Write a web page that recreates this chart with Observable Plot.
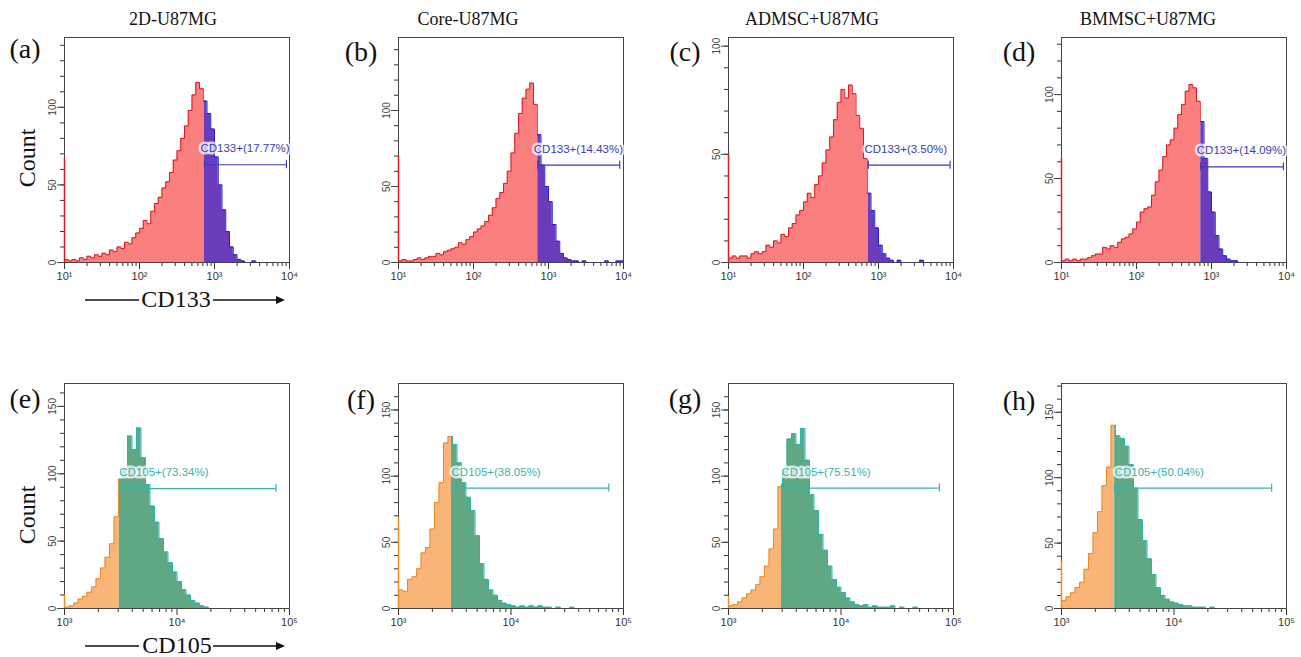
<!DOCTYPE html>
<html><head><meta charset="utf-8">
<script src="https://cdn.jsdelivr.net/npm/d3@7"></script>
<script src="https://cdn.jsdelivr.net/npm/@observablehq/plot@0.6"></script>
<style>
body{margin:0;background:#fff;}
#fig{position:relative;width:1301px;height:657px;overflow:hidden;font-family:"Liberation Serif","Times New Roman",serif;color:#111;}
.t{position:absolute;transform:translate(-50%,-50%);white-space:nowrap;line-height:1;}
.panel{position:absolute;}
#deco{position:absolute;left:0;top:0;}
</style></head>
<body><div id="fig"><svg id="deco" width="1301" height="657"></svg></div>
<script>
// ---------- data ----------
const columnTitles = ["2D-U87MG", "Core-U87MG", "ADMSC+U87MG", "BMMSC+U87MG"];
const topLetters = ["(a)", "(b)", "(c)", "(d)"];
const bottomLetters = ["(e)", "(f)", "(g)", "(h)"];

// bin starts, log10 of fluorescence
const cd133Bins = [1.00,1.05,1.10,1.15,1.20,1.25,1.30,1.35,1.40,1.45,1.50,1.55,1.60,1.65,1.70,1.75,1.80,1.85,1.90,1.95,2.00,2.05,2.10,2.15,2.20,2.25,2.30,2.35,2.40,2.45,2.50,2.55,2.60,2.65,2.70,2.75,2.80,2.85,2.90,2.95,3.00,3.05,3.10,3.15,3.20,3.25,3.30,3.35,3.40,3.45,3.50,3.55,3.60,3.65,3.70,3.75,3.80,3.85,3.90,3.95];
const cd105Bins = [3.00,3.04,3.08,3.12,3.16,3.20,3.24,3.28,3.32,3.36,3.40,3.44,3.48,3.52,3.56,3.60,3.64,3.68,3.72,3.76,3.80,3.84,3.88,3.92,3.96,4.00,4.04,4.08,4.12,4.16,4.20,4.24,4.28,4.32,4.36,4.40,4.44,4.48,4.52,4.56,4.60,4.64,4.68,4.72,4.76,4.80,4.84,4.88,4.92,4.96];

const cd133Counts_a = [2,1,2,1,3,2,4,3,5,4, 6,5,8,7,10,9,13,12,16,19, 22,27,25,33,38,42,48,52,58,66, 72,80,88,98,108,116,112,104,96,86, 68,50,34,20,10,5,2,1,0,0, 1,0,0,0,0,0,0,0,0,0];
const cd133Counts_b = [1,2,1,1,2,3,2,3,4,4, 6,5,7,8,9,10,13,12,15,17, 20,22,24,27,31,36,42,46,52,60, 72,85,98,108,114,118,104,84,64,50, 40,25,14,6,3,2,1,1,0,1, 0,0,0,0,0,1,0,0,1,1];
const cd133Counts_c = [2,3,2,3,3,2,4,5,4,5, 8,7,10,9,13,12,16,18,22,24, 28,32,30,36,40,46,52,58,66,74, 80,76,82,78,68,62,48,32,24,16, 8,4,2,1,0,1,0,0,0,0, 0,1,0,0,0,0,0,0,0,0];
const cd133Counts_d = [1,2,1,2,1,2,2,3,4,5, 5,9,8,10,9,12,14,15,17,20, 24,30,32,33,40,48,55,63,70,73, 80,88,94,102,106,104,96,84,62,42, 30,16,8,4,2,1,1,0,0,0, 0,0,0,0,0,0,0,0,0,0];
const cd105Counts_e = [1,2,4,7,9,12,16,22,30,38, 48,68,96,104,128,118,134,112,92,76, 64,52,42,34,27,20,14,10,6,4, 2,1,0,0,0,0,0,0,0,0, 0,0,0,0,0,0,0,0,0,0];
const cd105Counts_f = [14,13,22,24,30,42,46,60,80,95, 125,130,124,110,95,84,74,55,34,22, 14,10,6,4,3,2,1,2,1,2, 1,2,1,1,0,1,0,0,1,0, 0,0,0,0,0,0,0,0,0,0];
const cd105Counts_g = [2,3,5,8,11,14,18,24,32,45, 60,92,104,128,132,124,136,112,86,74, 56,44,32,22,16,12,8,5,3,2, 3,1,2,1,1,1,2,0,1,0, 0,1,0,0,0,0,0,0,0,0];
const cd105Counts_h = [6,9,12,16,20,30,42,58,74,94, 108,140,132,130,124,110,92,68,52,38, 26,16,10,7,5,4,3,2,2,1, 1,1,0,1,0,0,0,0,0,0, 0,0,0,0,0,0,0,0,0,0];

// events piled at the lowest channel
const cd133Edge = [67, 70, 50, 62];
const cd105Edge = [10, 69, 9, 36];

// gates
const cd133GateStart = [735, 720, 733, 720];
const cd133GateEnd = [9100, 8900, 9000, 9100];
const cd133GateLevel = [63, 64, 45, 57];
const cd133Labels = ["CD133+(17.77%)", "CD133+(14.43%)", "CD133+(3.50%)", "CD133+(14.09%)"];
const cd105GateStart = [3070, 2960, 2960, 2970];
const cd105GateEnd = [76000, 74000, 75000, 73800];
const cd105GateLevel = [89, 91, 91, 92];
const cd105Labels = ["CD105+(73.34%)", "CD105+(38.05%)", "CD105+(75.51%)", "CD105+(50.04%)"];

// axes
const cd133Domain = [10, 10000];
const cd105Domain = [1000, 100000];
const cd133MajorTicks = [10, 100, 1000, 10000];
const cd105MajorTicks = [1000, 10000, 100000];
const cd133YMax = [145, 148, 104, 134];
const cd105YMax = [167, 170, 170, 172];
const cd133YTicks = [0, 50, 100];
const cd105YTicks = [0, 50, 100, 150];

// ---------- layout ----------
const fig = document.getElementById("fig");
const colLeft = [64, 398, 728, 1061];
const rowTop = [37, 383];
const FW = 225, FH = 225, ML = 40, MR = 12, MT = 10, MB = 32;
const sup = {1: "\u00b9", 2: "\u00b2", 3: "\u00b3", 4: "\u2074", 5: "\u2075"};
const supFormat = d => "10" + sup[Math.round(Math.log10(d))];

const topColors = {negFill: "#fa8080", negStroke: "#e8161c", posFill: "#6a3cbc", posStroke: "#2020e0", gate: "#3a3ab6"};
const botColors = {negFill: "#f9b478", negStroke: "#f08a20", posFill: "#60a884", posStroke: "#22b7ae", gate: "#38b4ac"};

function minorTicks(domain) {
  const out = [];
  for (let p = Math.log10(domain[0]); p < Math.log10(domain[1]); p++)
    for (let k = 2; k <= 9; k++) out.push(k * 10 ** p);
  return out;
}

function panel(o) {
  const xs = o.bins.map(b => 10 ** b);
  const neg = [], pos = [];
  xs.forEach((x1, i) => {
    const x2 = i + 1 < xs.length ? xs[i + 1] : o.domain[1];
    const y = o.counts[i];
    if (x2 <= o.gate) neg.push({x: x1, y}, {x: x2, y});
    else if (x1 >= o.gate) pos.push({x: x1, y}, {x: x2, y});
    else { neg.push({x: x1, y}, {x: o.gate, y}); pos.push({x: o.gate, y}, {x: x2, y}); }
  });
  const c = o.colors;
  const yMinor = d3.range(0, o.yMax, 10);
  const svg = Plot.plot({
    width: FW + ML + MR, height: FH + MT + MB,
    marginLeft: ML, marginRight: MR, marginTop: MT, marginBottom: MB,
    x: {type: "log", domain: o.domain},
    y: {domain: [0, o.yMax]},
    style: {fontFamily: "'Liberation Sans', Arial, sans-serif", background: "transparent", color: "#333"},
    marks: [
      Plot.areaY(neg, {x: "x", y1: 0, y2: "y", fill: c.negFill}),
      Plot.areaY(pos, {x: "x", y1: 0, y2: "y", fill: c.posFill}),
      Plot.line(neg, {x: "x", y: "y", stroke: c.negStroke, strokeWidth: 1}),
      Plot.line(pos, {x: "x", y: "y", stroke: c.posStroke, strokeWidth: 1}),
      Plot.axisX({ticks: minorTicks(o.domain), tickSize: 4, tickFormat: () => "", label: null, color: "#333"}),
      Plot.axisX({ticks: o.xTicks, tickSize: 7, tickFormat: supFormat, tickPadding: 3, fontSize: 11, label: null, color: "#333"}),
      Plot.axisY({ticks: yMinor, tickSize: 4, tickFormat: () => "", label: null, color: "#333"}),
      Plot.axisY({ticks: o.yTicks, tickSize: 7, tickRotate: -90, tickPadding: 2, fontSize: 10, label: null, color: "#444"}),
      Plot.frame({stroke: "#444"}),
      Plot.ruleX([o.edge], {x: o.domain[0], y1: 0, y2: d => d, stroke: c.negStroke, strokeWidth: 1.5}),
      Plot.ruleY([o.level], {x1: o.gate, x2: o.gateEnd, y: d => d, stroke: c.gate, strokeWidth: 1.2}),
      Plot.ruleX([o.gate, o.gateEnd], {x: d => d, y1: o.level, y2: o.level, insetTop: -4, insetBottom: -4, stroke: c.gate, strokeWidth: 1.2}),
      Plot.text([o.label], {x: o.gate, y: o.level, text: d => d, dx: o.labelDx, dy: -16, textAnchor: "start",
        fill: c.gate, stroke: "#fff", strokeOpacity: 0.72, strokeWidth: 5, paintOrder: "stroke", fontSize: 11.5})
    ]
  });
  svg.classList.add("panel");
  svg.style.left = (o.left - ML) + "px";
  svg.style.top = (o.top - MT) + "px";
  fig.appendChild(svg);
}

const cd133Counts = [cd133Counts_a, cd133Counts_b, cd133Counts_c, cd133Counts_d];
const cd105Counts = [cd105Counts_e, cd105Counts_f, cd105Counts_g, cd105Counts_h];
for (let i = 0; i < 4; i++) {
  panel({bins: cd133Bins, counts: cd133Counts[i], edge: cd133Edge[i], gate: cd133GateStart[i], gateEnd: cd133GateEnd[i],
    level: cd133GateLevel[i], label: cd133Labels[i], domain: cd133Domain, xTicks: cd133MajorTicks, yMax: cd133YMax[i],
    yTicks: cd133YTicks, colors: topColors, left: colLeft[i], top: rowTop[0], labelDx: -4});
  panel({bins: cd105Bins, counts: cd105Counts[i], edge: cd105Edge[i], gate: cd105GateStart[i], gateEnd: cd105GateEnd[i],
    level: cd105GateLevel[i], label: cd105Labels[i], domain: cd105Domain, xTicks: cd105MajorTicks, yMax: cd105YMax[i],
    yTicks: cd105YTicks, colors: botColors, left: colLeft[i], top: rowTop[1], labelDx: 0});
}

// ---------- text & decorations ----------
function addText(str, x, y, size, extra) {
  const d = document.createElement("div");
  d.className = "t";
  d.textContent = str;
  d.style.left = x + "px"; d.style.top = y + "px"; d.style.fontSize = size + "px";
  if (extra) d.style.transform = "translate(-50%,-50%) " + extra;
  fig.appendChild(d);
}
const titleX = [173, 468, 812, 1148];
columnTitles.forEach((t, i) => addText(t, titleX[i], 19, 18));
const letterX = [25, 361, 685, 1019];
const letterTopY = [49, 52, 52, 52], letterBotY = [399, 400, 399, 401];
topLetters.forEach((t, i) => addText(t, letterX[i], letterTopY[i], 28));
bottomLetters.forEach((t, i) => addText(t, letterX[i], letterBotY[i], 28));
addText("Count", 27, 158, 24, "rotate(-90deg)");
addText("Count", 27, 515, 24, "rotate(-90deg)");
addText("CD133", 176, 299, 24);
addText("CD105", 177, 645, 24);

const deco = d3.select("#deco");
[[300], [646]].forEach(([y]) => {
  deco.append("line").attr("x1", 85).attr("x2", 139).attr("y1", y).attr("y2", y).attr("stroke", "#111").attr("stroke-width", 1.3);
  deco.append("line").attr("x1", 213).attr("x2", 277).attr("y1", y).attr("y2", y).attr("stroke", "#111").attr("stroke-width", 1.3);
  deco.append("path").attr("d", `M276,${y - 4}L285,${y}L276,${y + 4}Z`).attr("fill", "#111");
});
</script></body></html>
